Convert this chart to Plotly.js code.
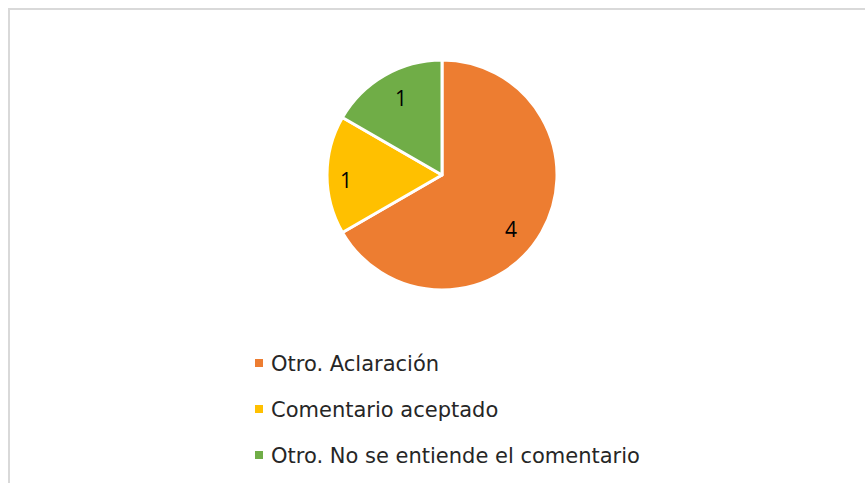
<!DOCTYPE html>
<html>
<head>
<meta charset="utf-8">
<script src="https://cdn.plot.ly/plotly-3.0.1.min.js"></script>
<style>
html,body{margin:0;padding:0;background:#fff;}
#chart{width:865px;height:483px;}
</style>
</head>
<body>
<div id="chart"></div>
<script>
const categories = ["Otro. Aclaración", "Comentario aceptado", "Otro. No se entiende el comentario"];
const values = [4, 1, 1];
const colors = ["#ED7D31", "#FFC000", "#70AD47"];

const W = 865, H = 483;
const cx = 442, cy = 175, r = 115;

const trace = {
  type: "pie",
  labels: categories,
  values: values,
  sort: false,
  direction: "clockwise",
  rotation: 0,
  marker: {colors: colors, line: {color: "#ffffff", width: 3}},
  textinfo: "none",
  hoverinfo: "label+value",
  showlegend: false,
  domain: {x: [(cx - r) / W, (cx + r) / W], y: [(H - cy - r) / H, (H - cy + r) / H]}
};

// data label placement (style): radius fraction and angular nudge per slice
const labelRadius = [0.76, 0.84, 0.76];
const labelNudgeDeg = [8, -3, 2];

const annotations = [];
const total = values.reduce((a, b) => a + b, 0);
let cum = 0;
values.forEach((v, i) => {
  const mid = (cum + v / 2) / total * 360 + labelNudgeDeg[i];
  cum += v;
  const a = mid * Math.PI / 180;
  const px = cx + labelRadius[i] * r * Math.sin(a);
  const py = cy - labelRadius[i] * r * Math.cos(a);
  annotations.push({
    xref: "paper", yref: "paper", x: px / W, y: 1 - py / H,
    xanchor: "center", yanchor: "middle", showarrow: false, text: String(v),
    font: {family: "Open Sans, Liberation Sans, sans-serif", size: 21, color: "#000000"}
  });
});

const legendY = [364, 410, 456];
const shapes = [{
  type: "rect", xref: "paper", yref: "paper",
  x0: 9 / W, x1: 1.2, y0: -0.2, y1: 1 - 9 / H,
  line: {color: "#D9D9D9", width: 2}, fillcolor: "rgba(0,0,0,0)"
}];
categories.forEach((c, i) => {
  annotations.push({
    xref: "paper", yref: "paper", x: 269 / W, y: 1 - legendY[i] / H,
    xanchor: "left", yanchor: "middle", showarrow: false, text: c,
    font: {family: "DejaVu Sans, sans-serif", size: 21, color: "#262626"}
  });
  shapes.push({
    type: "rect", xref: "paper", yref: "paper",
    x0: 255 / W, x1: 263 / W,
    y0: 1 - (legendY[i] - 1 + 4) / H, y1: 1 - (legendY[i] - 1 - 4) / H,
    fillcolor: colors[i], line: {width: 0}
  });
});

const layout = {
  width: W, height: H,
  margin: {l: 0, r: 0, t: 0, b: 0},
  paper_bgcolor: "#ffffff",
  showlegend: false,
  annotations: annotations,
  shapes: shapes
};

Plotly.newPlot("chart", [trace], layout, {displayModeBar: false, staticPlot: true});
</script>
</body>
</html>
